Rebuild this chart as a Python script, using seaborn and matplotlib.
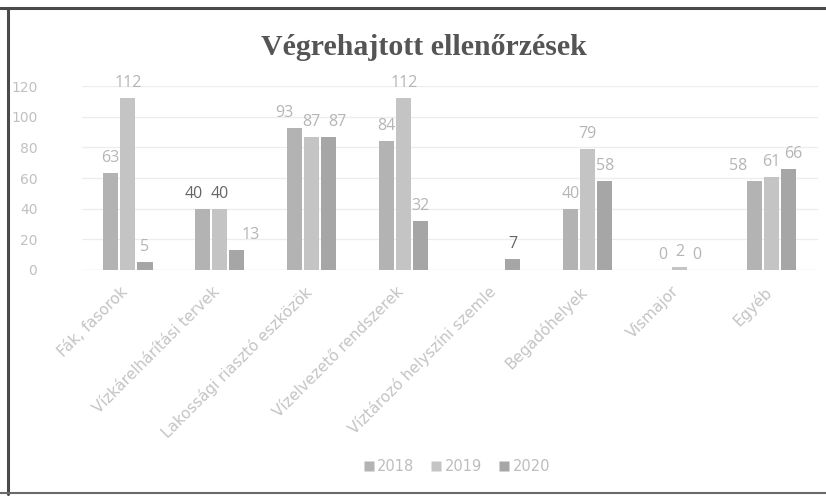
import numpy as np
import pandas as pd
import matplotlib
matplotlib.use("Agg")
import matplotlib.pyplot as plt
import matplotlib.transforms as mtrans
import seaborn as sns
from matplotlib.lines import Line2D

categories = ["Fák, fasorok", "Vízkárelhárítási tervek", "Lakossági riasztó eszközök",
              "Vízelvezető rendszerek", "Víztározó helyszíni szemle", "Begadóhelyek",
              "Vismajor", "Egyéb"]
years = ["2018", "2019", "2020"]
v2018 = [63, 40, 93, 84, np.nan, 40, 0, 58]
v2019 = [112, 40, 87, 112, np.nan, 79, 2, 61]
v2020 = [5, 13, 87, 32, 7, 58, 0, 66]
colors = ["#b3b3b3", "#c4c4c4", "#a6a6a6"]
yticks = [0, 20, 40, 60, 80, 100, 120]

rows = []
for yr, vals in zip(years, [v2018, v2019, v2020]):
    for c, v in zip(categories, vals):
        rows.append({"cat": c, "year": yr, "val": v})
df = pd.DataFrame(rows)

sns.set_theme(style="white")
plt.rcParams["font.family"] = ["DejaVu Sans"]

fig = plt.figure(figsize=(8.26, 4.98), dpi=100)
ax = fig.add_axes([0.099, 0.458, 0.891, 0.369])

sns.barplot(data=df, x="cat", y="val", hue="year", order=categories, hue_order=years,
            palette=colors, width=0.56, gap=0.12, ax=ax, legend=False,
            edgecolor="none")

lab_col = "#b5b5b5"
dark_labels = {(1, 0), (1, 1), (4, 2)}  # scan makes these darker
# label nudges (pixels) to mimic spreadsheet label placement in crowded groups
nudges = {(1, 0): -9, (1, 2): 14, (2, 0): -10, (2, 2): 8, (7, 0): -16, (7, 2): 4}
for hi, cont in enumerate(ax.containers):
    bars = list(cont)
    texts = ax.bar_label(cont, labels=["" if np.isnan(b.get_height()) else f"{int(round(b.get_height()))}"
                                       for b in bars],
                         padding=5, fontsize=11.5, color=lab_col,
                         family="Open Sans")
    for b, t in zip(bars, texts):
        ci = int(round(b.get_x() + b.get_width() / 2))
        if (ci, hi) in dark_labels:
            t.set_color("#666666")
        if (ci, hi) in nudges:
            ox, oy = t.xyann
            t.xyann = (ox + nudges[(ci, hi)] * 0.72, oy)

ax.set_ylim(0, 120)
ax.set_yticks(yticks)
ax.set_yticklabels([str(t) for t in yticks], color="#c0c0c0", fontsize=10)
ax.tick_params(axis="y", length=0, pad=32)
ax.tick_params(axis="x", length=0, pad=10)
ax.set_xticks(range(len(categories)))
ax.set_xticklabels(categories, rotation=45, ha="right", rotation_mode="anchor",
                   color="#c4c4c4", fontsize=11)
offset = mtrans.ScaledTranslation(-8 / 100, 0, fig.dpi_scale_trans)
for lbl in ax.get_xticklabels():
    lbl.set_transform(lbl.get_transform() + offset)
ax.yaxis.grid(True, color="#ededed", linewidth=0.9)
ax.set_axisbelow(True)
for s in ax.spines.values():
    s.set_visible(False)
ax.axhline(0, color="#e2e2e2", linewidth=0.9, zorder=0)
ax.set_xlabel("")
ax.set_ylabel("")
ax.set_xlim(-0.5, len(categories) - 0.5)

fig.text(0.513, 0.905, "Végrehajtott ellenőrzések", ha="center", va="center",
         fontsize=21.5, fontweight="bold", family="Liberation Serif", color="#555555")

handles = [Line2D([0], [0], marker="s", linestyle="", markersize=6.5,
                  markerfacecolor=c, markeredgecolor="none") for c in colors]
fig.legend(handles, years, loc="center", bbox_to_anchor=(0.552, 0.064), ncol=3,
           frameon=False, fontsize=10.5, labelcolor="#bdbdbd", handletextpad=0.1,
           columnspacing=1.0, handlelength=1.0)

# border of scanned frame
fig.add_artist(Line2D([0, 1], [0.984, 0.984], transform=fig.transFigure, color="#4a4a4a", linewidth=2.2))
fig.add_artist(Line2D([0.0097, 0.0097], [0.008, 0.984], transform=fig.transFigure, color="#4a4a4a", linewidth=2.2))
fig.add_artist(Line2D([0, 1], [0.01, 0.01], transform=fig.transFigure, color="#6a6a6a", linewidth=1.5))

fig.savefig("out.png", dpi=100, facecolor="white")
